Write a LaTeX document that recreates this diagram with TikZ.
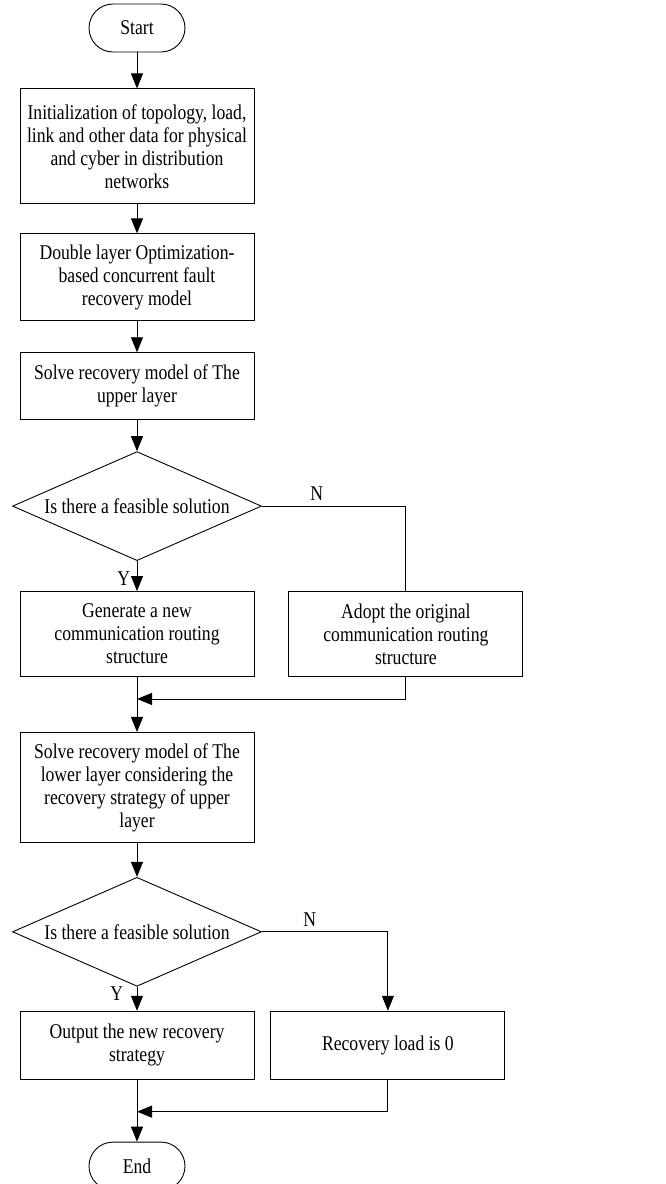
\documentclass[tikz,border=0pt]{standalone}
\usepackage{fontspec}
\setmainfont{Liberation Serif}[FakeStretch=0.84]
\usepackage{tikz}
\usetikzlibrary{positioning, shapes.geometric, arrows.meta}

\tikzset{
  procbox/.style={draw, line width=0.9pt, minimum width=234pt, align=center, inner sep=2pt},
  termbox/.style={draw, line width=0.9pt, rounded corners=24pt, minimum width=96pt, minimum height=48pt, align=center},
  decbox/.style={draw, line width=0.9pt, diamond, aspect=2.28, minimum width=249pt, minimum height=109pt, inner sep=0pt, align=center},
  arr/.style={-{Triangle[length=15pt, width=12pt]}, line width=0.9pt},
  conn/.style={line width=0.9pt}
}

\begin{document}
\begin{tikzpicture}[x=1pt, y=-1pt, font=\fontsize{21}{23}\selectfont]

\useasboundingbox (0,0) rectangle (665,1184);

\node[termbox] (start) at (137,28) {Start};

\node[procbox, minimum height=115pt, below=36pt of start] (init)
{Initialization of topology, load,\\
link and other data for physical\\
and cyber in distribution\\
networks};

\node[procbox, minimum height=87pt, below=29pt of init] (model)
{Double layer Optimization-\\
based concurrent fault\\
recovery model};

\node[procbox, minimum height=67pt, below=31pt of model] (upper)
{Solve recovery model of The\\
upper layer};

\node[decbox, below=31pt of upper] (check1) {Is there a feasible solution};

\node[procbox, minimum height=85pt, below=30pt of check1] (newroute)
{Generate a new\\
communication routing\\
structure};

\node[procbox, minimum height=85pt, right=34pt of newroute] (oldroute)
{Adopt the original\\
communication routing\\
structure};

\node[procbox, minimum height=110pt, below=55pt of newroute] (lower)
{Solve recovery model of The\\
lower layer considering the\\
recovery strategy of upper\\
layer};

\node[decbox, below=34pt of lower] (check2) {Is there a feasible solution};

\node[procbox, minimum height=68pt, below=24pt of check2] (output)
{Output the new recovery\\
strategy};

\node[procbox, minimum height=68pt, right=16pt of output] (zeroload)
{Recovery load is 0};

\node[termbox, below=62pt of output] (end) {End};

\coordinate[below=22pt of newroute.south] (merge1);
\coordinate[below=32pt of output.south] (merge2);

% main flow
\draw[arr] (start) -- (init);
\draw[arr] (init) -- (model);
\draw[arr] (model) -- (upper);
\draw[arr] (upper) -- (check1);
\draw[arr] (check1) -- node[pos=0.6, left=3pt]{Y} (newroute);
\draw[conn] (check1.east) -| node[pos=0.19, above=2pt]{N} (oldroute.north);
\draw[arr] (oldroute.south) |- (merge1);
\draw[arr] (newroute) -- (lower);
\draw[arr] (lower) -- (check2);
\draw[arr] (check2) -- node[pos=0.3, left=10pt]{Y} (output);
\draw[arr] (check2.east) -| node[pos=0.19, above=2pt]{N} (zeroload.north);
\draw[arr] (zeroload.south) |- (merge2);
\draw[arr] (output) -- (end);

\end{tikzpicture}
\end{document}
